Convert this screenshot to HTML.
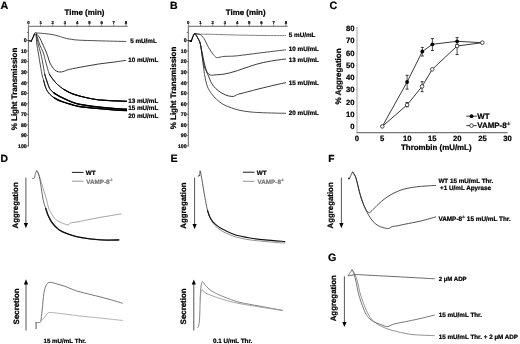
<!DOCTYPE html>
<html><head><meta charset="utf-8"><style>
html,body{margin:0;padding:0;background:#fff;}
body{width:520px;height:344px;overflow:hidden;}
svg{display:block;font-family:"Liberation Sans",sans-serif;will-change:transform;text-rendering:geometricPrecision;}
</style></head><body>
<svg width="520" height="344" viewBox="0 0 520 344">
<rect width="520" height="344" fill="#fff"/>
<text x="0.6" y="8.6" font-size="10.7" text-anchor="start" fill="#000" stroke="#000" stroke-width="0.22" font-weight="bold" >A</text>
<text x="169.9" y="8.8" font-size="10.5" text-anchor="start" fill="#000" stroke="#000" stroke-width="0.22" font-weight="bold" >B</text>
<text x="329.4" y="8.8" font-size="10.7" text-anchor="start" fill="#000" stroke="#000" stroke-width="0.22" font-weight="bold" >C</text>
<text x="0.4" y="162.3" font-size="10.4" text-anchor="start" fill="#000" stroke="#000" stroke-width="0.22" font-weight="bold" >D</text>
<text x="170.4" y="161.6" font-size="10.7" text-anchor="start" fill="#000" stroke="#000" stroke-width="0.22" font-weight="bold" >E</text>
<text x="328.2" y="162.4" font-size="10.2" text-anchor="start" fill="#000" stroke="#000" stroke-width="0.22" font-weight="bold" >F</text>
<text x="328.0" y="261.4" font-size="10.7" text-anchor="start" fill="#000" stroke="#000" stroke-width="0.22" font-weight="bold" >G</text>
<line x1="28.4" y1="26.3" x2="127.69999999999999" y2="26.3" stroke="#666" stroke-width="1.0"/>
<line x1="28.4" y1="26.3" x2="28.4" y2="146.5" stroke="#666" stroke-width="1.0"/>
<line x1="28.4" y1="26.3" x2="28.4" y2="24.3" stroke="#666" stroke-width="0.8"/>
<text x="28.4" y="24.0" font-size="4.3" text-anchor="middle" fill="#000" stroke="#000" stroke-width="0.22" font-weight="bold" >0</text>
<line x1="40.599999999999994" y1="26.3" x2="40.599999999999994" y2="24.3" stroke="#666" stroke-width="0.8"/>
<text x="40.599999999999994" y="24.0" font-size="4.3" text-anchor="middle" fill="#000" stroke="#000" stroke-width="0.22" font-weight="bold" >1</text>
<line x1="52.8" y1="26.3" x2="52.8" y2="24.3" stroke="#666" stroke-width="0.8"/>
<text x="52.8" y="24.0" font-size="4.3" text-anchor="middle" fill="#000" stroke="#000" stroke-width="0.22" font-weight="bold" >2</text>
<line x1="65.0" y1="26.3" x2="65.0" y2="24.3" stroke="#666" stroke-width="0.8"/>
<text x="65.0" y="24.0" font-size="4.3" text-anchor="middle" fill="#000" stroke="#000" stroke-width="0.22" font-weight="bold" >3</text>
<line x1="77.19999999999999" y1="26.3" x2="77.19999999999999" y2="24.3" stroke="#666" stroke-width="0.8"/>
<text x="77.19999999999999" y="24.0" font-size="4.3" text-anchor="middle" fill="#000" stroke="#000" stroke-width="0.22" font-weight="bold" >4</text>
<line x1="89.4" y1="26.3" x2="89.4" y2="24.3" stroke="#666" stroke-width="0.8"/>
<text x="89.4" y="24.0" font-size="4.3" text-anchor="middle" fill="#000" stroke="#000" stroke-width="0.22" font-weight="bold" >5</text>
<line x1="101.6" y1="26.3" x2="101.6" y2="24.3" stroke="#666" stroke-width="0.8"/>
<text x="101.6" y="24.0" font-size="4.3" text-anchor="middle" fill="#000" stroke="#000" stroke-width="0.22" font-weight="bold" >6</text>
<line x1="113.79999999999998" y1="26.3" x2="113.79999999999998" y2="24.3" stroke="#666" stroke-width="0.8"/>
<text x="113.79999999999998" y="24.0" font-size="4.3" text-anchor="middle" fill="#000" stroke="#000" stroke-width="0.22" font-weight="bold" >7</text>
<line x1="126.0" y1="26.3" x2="126.0" y2="24.3" stroke="#666" stroke-width="0.8"/>
<text x="126.0" y="24.0" font-size="4.3" text-anchor="middle" fill="#000" stroke="#000" stroke-width="0.22" font-weight="bold" >8</text>
<text x="64.6" y="15.4" font-size="7.9" text-anchor="start" fill="#000" stroke="#000" stroke-width="0.22" font-weight="bold" >Time (min)</text>
<line x1="27.0" y1="32.4" x2="28.4" y2="32.4" stroke="#444" stroke-width="0.8"/>
<line x1="26.799999999999997" y1="40.5" x2="28.4" y2="40.5" stroke="#666" stroke-width="0.8"/>
<text x="26.7" y="42.35" font-size="5.2" text-anchor="end" fill="#000" stroke="#000" stroke-width="0.22" font-weight="bold" >0</text>
<line x1="26.799999999999997" y1="51.05" x2="28.4" y2="51.05" stroke="#666" stroke-width="0.8"/>
<text x="26.7" y="52.9" font-size="5.2" text-anchor="end" fill="#000" stroke="#000" stroke-width="0.22" font-weight="bold" >10</text>
<line x1="26.799999999999997" y1="61.6" x2="28.4" y2="61.6" stroke="#666" stroke-width="0.8"/>
<text x="26.7" y="63.45" font-size="5.2" text-anchor="end" fill="#000" stroke="#000" stroke-width="0.22" font-weight="bold" >20</text>
<line x1="26.799999999999997" y1="72.15" x2="28.4" y2="72.15" stroke="#666" stroke-width="0.8"/>
<text x="26.7" y="74.0" font-size="5.2" text-anchor="end" fill="#000" stroke="#000" stroke-width="0.22" font-weight="bold" >30</text>
<line x1="26.799999999999997" y1="82.7" x2="28.4" y2="82.7" stroke="#666" stroke-width="0.8"/>
<text x="26.7" y="84.55" font-size="5.2" text-anchor="end" fill="#000" stroke="#000" stroke-width="0.22" font-weight="bold" >40</text>
<line x1="26.799999999999997" y1="93.25" x2="28.4" y2="93.25" stroke="#666" stroke-width="0.8"/>
<text x="26.7" y="95.1" font-size="5.2" text-anchor="end" fill="#000" stroke="#000" stroke-width="0.22" font-weight="bold" >50</text>
<line x1="26.799999999999997" y1="103.80000000000001" x2="28.4" y2="103.80000000000001" stroke="#666" stroke-width="0.8"/>
<text x="26.7" y="105.65" font-size="5.2" text-anchor="end" fill="#000" stroke="#000" stroke-width="0.22" font-weight="bold" >60</text>
<line x1="26.799999999999997" y1="114.35000000000001" x2="28.4" y2="114.35000000000001" stroke="#666" stroke-width="0.8"/>
<text x="26.7" y="116.2" font-size="5.2" text-anchor="end" fill="#000" stroke="#000" stroke-width="0.22" font-weight="bold" >70</text>
<line x1="26.799999999999997" y1="124.9" x2="28.4" y2="124.9" stroke="#666" stroke-width="0.8"/>
<text x="26.7" y="126.75" font-size="5.2" text-anchor="end" fill="#000" stroke="#000" stroke-width="0.22" font-weight="bold" >80</text>
<line x1="26.799999999999997" y1="135.45" x2="28.4" y2="135.45" stroke="#666" stroke-width="0.8"/>
<text x="26.7" y="137.29999999999998" font-size="5.2" text-anchor="end" fill="#000" stroke="#000" stroke-width="0.22" font-weight="bold" >90</text>
<line x1="26.799999999999997" y1="146.0" x2="28.4" y2="146.0" stroke="#666" stroke-width="0.8"/>
<text x="26.7" y="147.85" font-size="5.2" text-anchor="end" fill="#000" stroke="#000" stroke-width="0.22" font-weight="bold" >100</text>
<line x1="188.3" y1="26.3" x2="287.6" y2="26.3" stroke="#666" stroke-width="1.0"/>
<line x1="188.3" y1="26.3" x2="188.3" y2="146.5" stroke="#666" stroke-width="1.0"/>
<line x1="188.3" y1="26.3" x2="188.3" y2="24.3" stroke="#666" stroke-width="0.8"/>
<text x="188.3" y="24.0" font-size="4.3" text-anchor="middle" fill="#000" stroke="#000" stroke-width="0.22" font-weight="bold" >0</text>
<line x1="200.5" y1="26.3" x2="200.5" y2="24.3" stroke="#666" stroke-width="0.8"/>
<text x="200.5" y="24.0" font-size="4.3" text-anchor="middle" fill="#000" stroke="#000" stroke-width="0.22" font-weight="bold" >1</text>
<line x1="212.70000000000002" y1="26.3" x2="212.70000000000002" y2="24.3" stroke="#666" stroke-width="0.8"/>
<text x="212.70000000000002" y="24.0" font-size="4.3" text-anchor="middle" fill="#000" stroke="#000" stroke-width="0.22" font-weight="bold" >2</text>
<line x1="224.9" y1="26.3" x2="224.9" y2="24.3" stroke="#666" stroke-width="0.8"/>
<text x="224.9" y="24.0" font-size="4.3" text-anchor="middle" fill="#000" stroke="#000" stroke-width="0.22" font-weight="bold" >3</text>
<line x1="237.10000000000002" y1="26.3" x2="237.10000000000002" y2="24.3" stroke="#666" stroke-width="0.8"/>
<text x="237.10000000000002" y="24.0" font-size="4.3" text-anchor="middle" fill="#000" stroke="#000" stroke-width="0.22" font-weight="bold" >4</text>
<line x1="249.3" y1="26.3" x2="249.3" y2="24.3" stroke="#666" stroke-width="0.8"/>
<text x="249.3" y="24.0" font-size="4.3" text-anchor="middle" fill="#000" stroke="#000" stroke-width="0.22" font-weight="bold" >5</text>
<line x1="261.5" y1="26.3" x2="261.5" y2="24.3" stroke="#666" stroke-width="0.8"/>
<text x="261.5" y="24.0" font-size="4.3" text-anchor="middle" fill="#000" stroke="#000" stroke-width="0.22" font-weight="bold" >6</text>
<line x1="273.7" y1="26.3" x2="273.7" y2="24.3" stroke="#666" stroke-width="0.8"/>
<text x="273.7" y="24.0" font-size="4.3" text-anchor="middle" fill="#000" stroke="#000" stroke-width="0.22" font-weight="bold" >7</text>
<line x1="285.9" y1="26.3" x2="285.9" y2="24.3" stroke="#666" stroke-width="0.8"/>
<text x="285.9" y="24.0" font-size="4.3" text-anchor="middle" fill="#000" stroke="#000" stroke-width="0.22" font-weight="bold" >8</text>
<text x="225.8" y="15.4" font-size="7.9" text-anchor="start" fill="#000" stroke="#000" stroke-width="0.22" font-weight="bold" >Time (min)</text>
<line x1="186.9" y1="32.4" x2="188.3" y2="32.4" stroke="#444" stroke-width="0.8"/>
<line x1="186.70000000000002" y1="40.5" x2="188.3" y2="40.5" stroke="#666" stroke-width="0.8"/>
<text x="186.60000000000002" y="42.35" font-size="5.2" text-anchor="end" fill="#000" stroke="#000" stroke-width="0.22" font-weight="bold" >0</text>
<line x1="186.70000000000002" y1="51.05" x2="188.3" y2="51.05" stroke="#666" stroke-width="0.8"/>
<text x="186.60000000000002" y="52.9" font-size="5.2" text-anchor="end" fill="#000" stroke="#000" stroke-width="0.22" font-weight="bold" >10</text>
<line x1="186.70000000000002" y1="61.6" x2="188.3" y2="61.6" stroke="#666" stroke-width="0.8"/>
<text x="186.60000000000002" y="63.45" font-size="5.2" text-anchor="end" fill="#000" stroke="#000" stroke-width="0.22" font-weight="bold" >20</text>
<line x1="186.70000000000002" y1="72.15" x2="188.3" y2="72.15" stroke="#666" stroke-width="0.8"/>
<text x="186.60000000000002" y="74.0" font-size="5.2" text-anchor="end" fill="#000" stroke="#000" stroke-width="0.22" font-weight="bold" >30</text>
<line x1="186.70000000000002" y1="82.7" x2="188.3" y2="82.7" stroke="#666" stroke-width="0.8"/>
<text x="186.60000000000002" y="84.55" font-size="5.2" text-anchor="end" fill="#000" stroke="#000" stroke-width="0.22" font-weight="bold" >40</text>
<line x1="186.70000000000002" y1="93.25" x2="188.3" y2="93.25" stroke="#666" stroke-width="0.8"/>
<text x="186.60000000000002" y="95.1" font-size="5.2" text-anchor="end" fill="#000" stroke="#000" stroke-width="0.22" font-weight="bold" >50</text>
<line x1="186.70000000000002" y1="103.80000000000001" x2="188.3" y2="103.80000000000001" stroke="#666" stroke-width="0.8"/>
<text x="186.60000000000002" y="105.65" font-size="5.2" text-anchor="end" fill="#000" stroke="#000" stroke-width="0.22" font-weight="bold" >60</text>
<line x1="186.70000000000002" y1="114.35000000000001" x2="188.3" y2="114.35000000000001" stroke="#666" stroke-width="0.8"/>
<text x="186.60000000000002" y="116.2" font-size="5.2" text-anchor="end" fill="#000" stroke="#000" stroke-width="0.22" font-weight="bold" >70</text>
<line x1="186.70000000000002" y1="124.9" x2="188.3" y2="124.9" stroke="#666" stroke-width="0.8"/>
<text x="186.60000000000002" y="126.75" font-size="5.2" text-anchor="end" fill="#000" stroke="#000" stroke-width="0.22" font-weight="bold" >80</text>
<line x1="186.70000000000002" y1="135.45" x2="188.3" y2="135.45" stroke="#666" stroke-width="0.8"/>
<text x="186.60000000000002" y="137.29999999999998" font-size="5.2" text-anchor="end" fill="#000" stroke="#000" stroke-width="0.22" font-weight="bold" >90</text>
<line x1="186.70000000000002" y1="146.0" x2="188.3" y2="146.0" stroke="#666" stroke-width="0.8"/>
<text x="186.60000000000002" y="147.85" font-size="5.2" text-anchor="end" fill="#000" stroke="#000" stroke-width="0.22" font-weight="bold" >100</text>
<text x="0" y="0" font-size="8.0" text-anchor="middle" fill="#000" stroke="#000" stroke-width="0.22" font-weight="bold" transform="translate(17.4,89.0) rotate(-90)">% Light Transmission</text>
<text x="0" y="0" font-size="8.0" text-anchor="middle" fill="#000" stroke="#000" stroke-width="0.22" font-weight="bold" transform="translate(175.6,88.0) rotate(-90)">% Light Transmission</text>
<path d="M28.60,40.50 C28.83,40.57 29.57,40.82 30.00,40.90 C30.43,40.98 30.67,41.63 31.20,41.00 C31.73,40.37 32.65,38.27 33.20,37.10 C33.75,35.93 34.08,34.65 34.50,34.00 C34.92,33.35 35.50,33.33 35.70,33.20" fill="none" stroke="#000" stroke-width="1.2" />
<path d="M31.20,41.00 L31.90,41.20" fill="none" stroke="#000" stroke-width="1.8" />
<path d="M35.70,33.20 C36.27,33.18 37.45,33.02 39.10,33.10 C40.75,33.18 43.43,33.47 45.60,33.70 C47.77,33.93 49.92,34.10 52.10,34.50 C54.28,34.90 56.28,35.43 58.70,36.10 C61.12,36.77 63.33,37.83 66.60,38.50 C69.87,39.17 72.97,39.72 78.30,40.10 C83.63,40.48 90.62,40.57 98.60,40.80 C106.58,41.03 121.60,41.38 126.20,41.50" fill="none" stroke="#222" stroke-width="0.8" />
<path d="M35.70,33.20 C36.17,33.67 37.62,34.78 38.50,36.00 C39.38,37.22 40.20,38.90 41.00,40.50 C41.80,42.10 42.43,43.68 43.30,45.60 C44.17,47.52 45.37,49.93 46.20,52.00 C47.03,54.07 47.73,56.33 48.30,58.00 C48.87,59.67 49.07,60.70 49.60,62.00 C50.13,63.30 50.60,64.43 51.50,65.80 C52.40,67.17 53.83,69.20 55.00,70.20 C56.17,71.20 57.42,71.52 58.50,71.80 C59.58,72.08 60.50,72.02 61.50,71.90 C62.50,71.78 63.17,71.52 64.50,71.10 C65.83,70.68 66.23,70.17 69.50,69.40 C72.77,68.63 79.25,67.40 84.10,66.50 C88.95,65.60 93.77,64.72 98.60,64.00 C103.43,63.28 108.50,62.82 113.10,62.20 C117.70,61.58 124.02,60.62 126.20,60.30" fill="none" stroke="#222" stroke-width="0.9" />
<path d="M35.70,33.20 C36.02,34.00 36.92,36.03 37.60,38.00 C38.28,39.97 38.88,42.67 39.80,45.00 C40.72,47.33 42.10,49.17 43.10,52.00 C44.10,54.83 44.77,58.33 45.80,62.00 C46.83,65.67 48.02,71.00 49.30,74.00 C50.58,77.00 52.15,78.27 53.50,80.00 C54.85,81.73 55.73,82.87 57.40,84.40 C59.07,85.93 61.17,87.70 63.50,89.20 C65.83,90.70 68.42,92.18 71.40,93.40 C74.38,94.62 77.30,95.48 81.40,96.50 C85.50,97.52 92.07,98.87 96.00,99.50 C99.93,100.13 101.60,100.07 105.00,100.30 C108.40,100.53 112.73,100.73 116.40,100.90 C120.07,101.07 125.23,101.23 127.00,101.30" fill="none" stroke="#222" stroke-width="0.8" />
<path d="M35.70,33.20 C35.92,34.00 36.55,36.03 37.00,38.00 C37.45,39.97 37.83,42.67 38.40,45.00 C38.97,47.33 39.70,49.17 40.40,52.00 C41.10,54.83 41.88,58.33 42.60,62.00 C43.32,65.67 44.05,71.00 44.70,74.00 C45.35,77.00 45.68,77.60 46.50,80.00 C47.32,82.40 48.50,86.37 49.60,88.40 C50.70,90.43 51.95,91.17 53.10,92.20 C54.25,93.23 54.73,93.57 56.50,94.60 C58.27,95.63 61.22,97.20 63.70,98.40 C66.18,99.60 68.83,100.83 71.40,101.80 C73.97,102.77 75.00,103.37 79.10,104.20 C83.20,105.03 89.85,106.07 96.00,106.80 C102.15,107.53 110.83,108.18 116.00,108.60 C121.17,109.02 125.17,109.18 127.00,109.30" fill="none" stroke="#222" stroke-width="0.8" />
<path d="M35.70,33.20 C35.80,34.00 36.10,36.03 36.30,38.00 C36.50,39.97 36.58,42.67 36.90,45.00 C37.22,47.33 37.72,49.17 38.20,52.00 C38.68,54.83 39.18,58.33 39.80,62.00 C40.42,65.67 41.28,71.00 41.90,74.00 C42.52,77.00 42.80,77.55 43.50,80.00 C44.20,82.45 45.08,86.37 46.10,88.70 C47.12,91.03 48.28,92.50 49.60,94.00 C50.92,95.50 52.60,96.70 54.00,97.70 C55.40,98.70 56.38,99.25 58.00,100.00 C59.62,100.75 61.47,101.45 63.70,102.20 C65.93,102.95 68.83,103.78 71.40,104.50 C73.97,105.22 75.00,105.85 79.10,106.50 C83.20,107.15 89.85,107.82 96.00,108.40 C102.15,108.98 110.83,109.63 116.00,110.00 C121.17,110.37 125.17,110.50 127.00,110.60" fill="none" stroke="#222" stroke-width="0.8" />
<path d="M49.30,74.00 C50.00,75.00 52.15,78.27 53.50,80.00 C54.85,81.73 55.73,82.87 57.40,84.40 C59.07,85.93 61.17,87.70 63.50,89.20 C65.83,90.70 68.42,92.18 71.40,93.40 C74.38,94.62 77.30,95.48 81.40,96.50 C85.50,97.52 92.07,98.87 96.00,99.50 C99.93,100.13 101.60,100.07 105.00,100.30 C108.40,100.53 112.73,100.73 116.40,100.90 C120.07,101.07 125.23,101.23 127.00,101.30" fill="none" stroke="#111" stroke-width="1.0" />
<path d="M63.50,89.20 C64.82,89.90 68.42,92.18 71.40,93.40 C74.38,94.62 77.30,95.48 81.40,96.50 C85.50,97.52 92.07,98.87 96.00,99.50 C99.93,100.13 101.60,100.07 105.00,100.30 C108.40,100.53 112.73,100.73 116.40,100.90 C120.07,101.07 125.23,101.23 127.00,101.30" fill="none" stroke="#000" stroke-width="1.2" />
<path d="M44.70,74.00 C45.00,75.00 45.68,77.60 46.50,80.00 C47.32,82.40 48.50,86.37 49.60,88.40 C50.70,90.43 51.95,91.17 53.10,92.20 C54.25,93.23 54.73,93.57 56.50,94.60 C58.27,95.63 61.22,97.20 63.70,98.40 C66.18,99.60 68.83,100.83 71.40,101.80 C73.97,102.77 75.00,103.37 79.10,104.20 C83.20,105.03 89.85,106.07 96.00,106.80 C102.15,107.53 110.83,108.18 116.00,108.60 C121.17,109.02 125.17,109.18 127.00,109.30" fill="none" stroke="#111" stroke-width="1.0" />
<path d="M53.10,92.20 C53.67,92.60 54.73,93.57 56.50,94.60 C58.27,95.63 61.22,97.20 63.70,98.40 C66.18,99.60 68.83,100.83 71.40,101.80 C73.97,102.77 75.00,103.37 79.10,104.20 C83.20,105.03 89.85,106.07 96.00,106.80 C102.15,107.53 110.83,108.18 116.00,108.60 C121.17,109.02 125.17,109.18 127.00,109.30" fill="none" stroke="#000" stroke-width="1.4" />
<path d="M43.50,80.00 C43.93,81.45 45.08,86.37 46.10,88.70 C47.12,91.03 48.28,92.50 49.60,94.00 C50.92,95.50 52.60,96.70 54.00,97.70 C55.40,98.70 56.38,99.25 58.00,100.00 C59.62,100.75 61.47,101.45 63.70,102.20 C65.93,102.95 68.83,103.78 71.40,104.50 C73.97,105.22 75.00,105.85 79.10,106.50 C83.20,107.15 89.85,107.82 96.00,108.40 C102.15,108.98 110.83,109.63 116.00,110.00 C121.17,110.37 125.17,110.50 127.00,110.60" fill="none" stroke="#111" stroke-width="1.0" />
<path d="M54.00,97.70 C54.67,98.08 56.38,99.25 58.00,100.00 C59.62,100.75 61.47,101.45 63.70,102.20 C65.93,102.95 68.83,103.78 71.40,104.50 C73.97,105.22 75.00,105.85 79.10,106.50 C83.20,107.15 89.85,107.82 96.00,108.40 C102.15,108.98 110.83,109.63 116.00,110.00 C121.17,110.37 125.17,110.50 127.00,110.60" fill="none" stroke="#000" stroke-width="1.4" />
<circle cx="35.7" cy="33.3" r="0.9" fill="#fff" stroke="#222" stroke-width="0.6"/>
<text x="130.2" y="42.6" font-size="6.3" text-anchor="start" fill="#000" stroke="#000" stroke-width="0.22" font-weight="bold" >5 mU/mL</text>
<text x="128.2" y="61.9" font-size="6.3" text-anchor="start" fill="#000" stroke="#000" stroke-width="0.22" font-weight="bold" >10 mU/mL</text>
<text x="128.2" y="103.2" font-size="6.3" text-anchor="start" fill="#000" stroke="#000" stroke-width="0.22" font-weight="bold" >13 mU/mL</text>
<text x="128.2" y="109.9" font-size="6.3" text-anchor="start" fill="#000" stroke="#000" stroke-width="0.22" font-weight="bold" >15 mU/mL</text>
<text x="128.2" y="117.6" font-size="6.3" text-anchor="start" fill="#000" stroke="#000" stroke-width="0.22" font-weight="bold" >20 mU/mL</text>
<path d="M188.30,40.50 C188.55,40.57 189.32,40.82 189.80,40.90 C190.28,40.98 190.68,41.73 191.20,41.00 C191.72,40.27 192.43,37.62 192.90,36.50 C193.37,35.38 193.62,34.80 194.00,34.30 C194.38,33.80 195.00,33.63 195.20,33.50" fill="none" stroke="#000" stroke-width="1.2" />
<path d="M190.20,41.00 L191.80,41.10" fill="none" stroke="#000" stroke-width="1.8" />
<path d="M195.20,33.50 C195.85,33.62 197.15,34.08 199.10,34.20 C201.05,34.32 203.63,34.15 206.90,34.20 C210.17,34.25 214.52,34.38 218.70,34.50 C222.88,34.62 227.62,34.78 232.00,34.90 C236.38,35.02 239.50,35.10 245.00,35.20 C250.50,35.30 258.17,35.43 265.00,35.50 C271.83,35.57 282.50,35.58 286.00,35.60" fill="none" stroke="#777" stroke-width="0.9" />
<path d="M195.20,33.50 C195.67,33.58 197.13,33.82 198.00,34.00 C198.87,34.18 199.57,34.05 200.40,34.60 C201.23,35.15 202.23,36.33 203.00,37.30 C203.77,38.27 204.23,39.02 205.00,40.40 C205.77,41.78 206.83,44.13 207.60,45.60 C208.37,47.07 208.65,47.72 209.60,49.20 C210.55,50.68 212.17,53.12 213.30,54.50 C214.43,55.88 215.27,57.07 216.40,57.50 C217.53,57.93 218.83,57.28 220.10,57.10 C221.37,56.92 221.52,56.58 224.00,56.40 C226.48,56.22 230.67,56.37 235.00,56.00 C239.33,55.63 245.00,54.82 250.00,54.20 C255.00,53.58 259.00,53.03 265.00,52.30 C271.00,51.57 282.50,50.22 286.00,49.80" fill="none" stroke="#222" stroke-width="0.8" />
<path d="M195.20,33.50 C195.42,33.88 195.97,34.87 196.50,35.80 C197.03,36.73 197.80,37.90 198.40,39.10 C199.00,40.30 199.60,41.18 200.10,43.00 C200.60,44.82 200.98,47.50 201.40,50.00 C201.82,52.50 202.23,55.75 202.60,58.00 C202.97,60.25 203.22,61.82 203.60,63.50 C203.98,65.18 204.25,66.55 204.90,68.10 C205.55,69.65 206.55,71.62 207.50,72.80 C208.45,73.98 209.38,74.85 210.60,75.20 C211.82,75.55 212.57,75.08 214.80,74.90 C217.03,74.72 220.63,74.68 224.00,74.10 C227.37,73.52 231.50,72.42 235.00,71.40 C238.50,70.38 240.83,69.35 245.00,68.00 C249.17,66.65 255.00,64.57 260.00,63.30 C265.00,62.03 270.67,61.12 275.00,60.40 C279.33,59.68 284.17,59.23 286.00,59.00" fill="none" stroke="#222" stroke-width="0.9" />
<path d="M195.20,33.50 C195.42,33.88 195.97,34.87 196.50,35.80 C197.03,36.73 197.80,37.90 198.40,39.10 C199.00,40.30 199.57,41.18 200.10,43.00 C200.63,44.82 201.08,47.50 201.60,50.00 C202.12,52.50 202.63,55.33 203.20,58.00 C203.77,60.67 204.40,63.67 205.00,66.00 C205.60,68.33 206.22,70.33 206.80,72.00 C207.38,73.67 207.70,74.12 208.50,76.00 C209.30,77.88 210.38,81.20 211.60,83.30 C212.82,85.40 214.05,86.93 215.80,88.60 C217.55,90.27 220.00,92.08 222.10,93.30 C224.20,94.52 226.48,95.38 228.40,95.90 C230.32,96.42 232.22,96.58 233.60,96.40 C234.98,96.22 235.63,95.23 236.70,94.80 C237.77,94.37 237.78,94.40 240.00,93.80 C242.22,93.20 246.67,92.07 250.00,91.20 C253.33,90.33 255.83,89.63 260.00,88.60 C264.17,87.57 270.67,86.00 275.00,85.00 C279.33,84.00 284.17,83.00 286.00,82.60" fill="none" stroke="#222" stroke-width="0.9" />
<path d="M195.20,33.50 C195.42,33.88 195.97,34.87 196.50,35.80 C197.03,36.73 197.80,37.90 198.40,39.10 C199.00,40.30 199.62,41.18 200.10,43.00 C200.58,44.82 200.92,47.50 201.30,50.00 C201.68,52.50 202.05,55.33 202.40,58.00 C202.75,60.67 203.10,63.67 203.40,66.00 C203.70,68.33 203.97,70.33 204.20,72.00 C204.43,73.67 204.27,73.58 204.80,76.00 C205.33,78.42 206.27,83.53 207.40,86.50 C208.53,89.47 210.03,91.62 211.60,93.80 C213.17,95.98 214.88,97.85 216.80,99.60 C218.72,101.35 220.65,102.92 223.10,104.30 C225.55,105.68 228.68,106.88 231.50,107.90 C234.32,108.92 236.92,109.73 240.00,110.40 C243.08,111.07 246.67,111.53 250.00,111.90 C253.33,112.27 255.83,112.40 260.00,112.60 C264.17,112.80 270.67,112.98 275.00,113.10 C279.33,113.22 284.17,113.27 286.00,113.30" fill="none" stroke="#222" stroke-width="0.8" />
<text x="288.8" y="37.0" font-size="6.3" text-anchor="start" fill="#000" stroke="#000" stroke-width="0.22" font-weight="bold" >5 mU/mL</text>
<text x="288.8" y="51.2" font-size="6.3" text-anchor="start" fill="#000" stroke="#000" stroke-width="0.22" font-weight="bold" >10 mU/mL</text>
<text x="288.8" y="61.5" font-size="6.3" text-anchor="start" fill="#000" stroke="#000" stroke-width="0.22" font-weight="bold" >13 mU/mL</text>
<text x="288.8" y="84.7" font-size="6.3" text-anchor="start" fill="#000" stroke="#000" stroke-width="0.22" font-weight="bold" >15 mU/mL</text>
<text x="288.8" y="114.5" font-size="6.3" text-anchor="start" fill="#000" stroke="#000" stroke-width="0.22" font-weight="bold" >20 mU/mL</text>
<line x1="357.0" y1="27.0" x2="357.0" y2="132.6" stroke="#999" stroke-width="0.9"/>
<line x1="356.5" y1="132.6" x2="507.6" y2="132.6" stroke="#777" stroke-width="1.1"/>
<text x="354.6" y="129.20000000000002" font-size="7.7" text-anchor="end" fill="#000" stroke="#000" stroke-width="0.22" font-weight="bold" >0</text>
<text x="354.6" y="116.95" font-size="7.7" text-anchor="end" fill="#000" stroke="#000" stroke-width="0.22" font-weight="bold" >10</text>
<text x="354.6" y="104.7" font-size="7.7" text-anchor="end" fill="#000" stroke="#000" stroke-width="0.22" font-weight="bold" >20</text>
<text x="354.6" y="92.45" font-size="7.7" text-anchor="end" fill="#000" stroke="#000" stroke-width="0.22" font-weight="bold" >30</text>
<text x="354.6" y="80.2" font-size="7.7" text-anchor="end" fill="#000" stroke="#000" stroke-width="0.22" font-weight="bold" >40</text>
<text x="354.6" y="67.95" font-size="7.7" text-anchor="end" fill="#000" stroke="#000" stroke-width="0.22" font-weight="bold" >50</text>
<text x="354.6" y="55.7" font-size="7.7" text-anchor="end" fill="#000" stroke="#000" stroke-width="0.22" font-weight="bold" >60</text>
<text x="354.6" y="43.45" font-size="7.7" text-anchor="end" fill="#000" stroke="#000" stroke-width="0.22" font-weight="bold" >70</text>
<text x="354.6" y="31.200000000000006" font-size="7.7" text-anchor="end" fill="#000" stroke="#000" stroke-width="0.22" font-weight="bold" >80</text>
<text x="357.0" y="140.6" font-size="7.7" text-anchor="middle" fill="#000" stroke="#000" stroke-width="0.22" font-weight="bold" >0</text>
<text x="382.085" y="140.6" font-size="7.7" text-anchor="middle" fill="#000" stroke="#000" stroke-width="0.22" font-weight="bold" >5</text>
<text x="407.17" y="140.6" font-size="7.7" text-anchor="middle" fill="#000" stroke="#000" stroke-width="0.22" font-weight="bold" >10</text>
<text x="432.255" y="140.6" font-size="7.7" text-anchor="middle" fill="#000" stroke="#000" stroke-width="0.22" font-weight="bold" >15</text>
<text x="457.34000000000003" y="140.6" font-size="7.7" text-anchor="middle" fill="#000" stroke="#000" stroke-width="0.22" font-weight="bold" >20</text>
<text x="482.425" y="140.6" font-size="7.7" text-anchor="middle" fill="#000" stroke="#000" stroke-width="0.22" font-weight="bold" >25</text>
<text x="507.51" y="140.6" font-size="7.7" text-anchor="middle" fill="#000" stroke="#000" stroke-width="0.22" font-weight="bold" >30</text>
<text x="401.0" y="149.6" font-size="7.9" text-anchor="start" fill="#000" stroke="#000" stroke-width="0.22" font-weight="bold" >Thrombin (mU/mL)</text>
<text x="0" y="0" font-size="8.0" text-anchor="middle" fill="#000" stroke="#000" stroke-width="0.22" font-weight="bold" transform="translate(340.6,76.5) rotate(-90)">% Aggregation</text>
<polyline points="382.3,126.4 407.1,82.0 422.3,51.5 432.4,44.3 457.1,41.3 482.3,42.7" fill="none" stroke="#222" stroke-width="0.9"/>
<polyline points="382.3,126.4 407.1,104.9 422.1,86.4 432.2,69.4 457.1,46.0 482.3,42.7" fill="none" stroke="#222" stroke-width="0.9"/>
<line x1="407.1" y1="75.3" x2="407.1" y2="89.1" stroke="#222" stroke-width="0.8"/><line x1="405.6" y1="75.3" x2="408.6" y2="75.3" stroke="#222" stroke-width="0.9"/><line x1="405.6" y1="89.1" x2="408.6" y2="89.1" stroke="#222" stroke-width="0.9"/>
<line x1="422.3" y1="47.4" x2="422.3" y2="56.0" stroke="#222" stroke-width="0.8"/><line x1="420.8" y1="47.4" x2="423.8" y2="47.4" stroke="#222" stroke-width="0.9"/><line x1="420.8" y1="56.0" x2="423.8" y2="56.0" stroke="#222" stroke-width="0.9"/>
<line x1="432.4" y1="38.6" x2="432.4" y2="50.5" stroke="#222" stroke-width="0.8"/><line x1="430.9" y1="38.6" x2="433.9" y2="38.6" stroke="#222" stroke-width="0.9"/><line x1="430.9" y1="50.5" x2="433.9" y2="50.5" stroke="#222" stroke-width="0.9"/>
<line x1="457.1" y1="37.6" x2="457.1" y2="44.3" stroke="#222" stroke-width="0.8"/><line x1="455.6" y1="37.6" x2="458.6" y2="37.6" stroke="#222" stroke-width="0.9"/><line x1="455.6" y1="44.3" x2="458.6" y2="44.3" stroke="#222" stroke-width="0.9"/>
<line x1="407.1" y1="102.5" x2="407.1" y2="106.8" stroke="#222" stroke-width="0.8"/><line x1="405.6" y1="102.5" x2="408.6" y2="102.5" stroke="#222" stroke-width="0.9"/><line x1="405.6" y1="106.8" x2="408.6" y2="106.8" stroke="#222" stroke-width="0.9"/>
<line x1="422.1" y1="81.7" x2="422.1" y2="91.7" stroke="#222" stroke-width="0.8"/><line x1="420.6" y1="81.7" x2="423.6" y2="81.7" stroke="#222" stroke-width="0.9"/><line x1="420.6" y1="91.7" x2="423.6" y2="91.7" stroke="#222" stroke-width="0.9"/>
<line x1="457.1" y1="46" x2="457.1" y2="54.5" stroke="#222" stroke-width="0.8"/><line x1="455.6" y1="46" x2="458.6" y2="46" stroke="#222" stroke-width="0.9"/><line x1="455.6" y1="54.5" x2="458.6" y2="54.5" stroke="#222" stroke-width="0.9"/>
<circle cx="407.1" cy="82.0" r="1.9" fill="#000"/>
<circle cx="422.3" cy="51.5" r="1.9" fill="#000"/>
<circle cx="432.4" cy="44.3" r="1.9" fill="#000"/>
<circle cx="457.1" cy="41.3" r="1.9" fill="#000"/>
<circle cx="382.3" cy="126.4" r="1.8" fill="#fff" stroke="#222" stroke-width="0.8"/>
<circle cx="407.1" cy="104.9" r="1.8" fill="#fff" stroke="#222" stroke-width="0.8"/>
<circle cx="422.1" cy="86.4" r="1.8" fill="#fff" stroke="#222" stroke-width="0.8"/>
<circle cx="432.2" cy="69.4" r="1.8" fill="#fff" stroke="#222" stroke-width="0.8"/>
<circle cx="457.1" cy="46.0" r="1.8" fill="#fff" stroke="#222" stroke-width="0.8"/>
<circle cx="482.3" cy="42.7" r="1.8" fill="#fff" stroke="#222" stroke-width="0.8"/>
<line x1="466.3" y1="116.2" x2="476.7" y2="116.2" stroke="#222" stroke-width="0.9"/>
<circle cx="471.5" cy="116.2" r="1.9" fill="#000"/>
<text x="477.3" y="118.9" font-size="7.9" text-anchor="start" fill="#000" stroke="#000" stroke-width="0.22" font-weight="bold" >WT</text>
<line x1="466.3" y1="125.6" x2="476.7" y2="125.6" stroke="#222" stroke-width="0.9"/>
<circle cx="471.5" cy="125.6" r="1.8" fill="#fff" stroke="#222" stroke-width="0.8"/>
<text x="477.3" y="128.3" font-size="7.9" text-anchor="start" fill="#000" stroke="#000" stroke-width="0.22" font-weight="bold" >VAMP-8<tspan font-size="4.2" dy="-3.6">-/-</tspan></text>
<line x1="25.9" y1="177.6" x2="25.9" y2="224.3" stroke="#555" stroke-width="1.0"/><path d="M23.799999999999997,223.10000000000002 L25.9,228.3 L28.0,223.10000000000002 Z" fill="#000"/>
<text x="0" y="0" font-size="7.85" text-anchor="middle" fill="#000" stroke="#000" stroke-width="0.22" font-weight="bold" transform="translate(17.6,205.4) rotate(-90)">Aggregation</text>
<line x1="26.0" y1="283.3" x2="26.0" y2="330.5" stroke="#555" stroke-width="1.0"/><path d="M23.9,284.5 L26.0,279.3 L28.1,284.5 Z" fill="#000"/>
<text x="0" y="0" font-size="7.9" text-anchor="middle" fill="#000" stroke="#000" stroke-width="0.22" font-weight="bold" transform="translate(18.9,306.4) rotate(-90)">Secretion</text>
<line x1="194.6" y1="177.6" x2="194.6" y2="225.3" stroke="#555" stroke-width="1.0"/><path d="M192.5,224.10000000000002 L194.6,229.3 L196.7,224.10000000000002 Z" fill="#000"/>
<text x="0" y="0" font-size="7.85" text-anchor="middle" fill="#000" stroke="#000" stroke-width="0.22" font-weight="bold" transform="translate(186.2,205.6) rotate(-90)">Aggregation</text>
<line x1="193.8" y1="283.4" x2="193.8" y2="330.5" stroke="#555" stroke-width="1.0"/><path d="M191.70000000000002,284.59999999999997 L193.8,279.4 L195.9,284.59999999999997 Z" fill="#000"/>
<text x="0" y="0" font-size="7.9" text-anchor="middle" fill="#000" stroke="#000" stroke-width="0.22" font-weight="bold" transform="translate(186.4,306.4) rotate(-90)">Secretion</text>
<line x1="341.4" y1="177.6" x2="341.4" y2="224.2" stroke="#555" stroke-width="1.0"/><path d="M339.29999999999995,223.0 L341.4,228.2 L343.5,223.0 Z" fill="#000"/>
<text x="0" y="0" font-size="7.85" text-anchor="middle" fill="#000" stroke="#000" stroke-width="0.22" font-weight="bold" transform="translate(333.0,205.4) rotate(-90)">Aggregation</text>
<line x1="344.4" y1="276.3" x2="344.4" y2="323.1" stroke="#555" stroke-width="1.0"/><path d="M342.29999999999995,321.90000000000003 L344.4,327.1 L346.5,321.90000000000003 Z" fill="#000"/>
<text x="0" y="0" font-size="7.85" text-anchor="middle" fill="#000" stroke="#000" stroke-width="0.22" font-weight="bold" transform="translate(336.3,298.2) rotate(-90)">Aggregation</text>
<path d="M32.10,178.20 C32.48,178.20 33.88,178.82 34.40,178.20 C34.92,177.58 34.82,175.77 35.20,174.50 C35.58,173.23 36.45,171.25 36.70,170.60" fill="none" stroke="#555" stroke-width="0.9" />
<path d="M36.70,170.60 C37.02,171.13 37.95,172.23 38.60,173.80 C39.25,175.37 39.77,177.30 40.60,180.00 C41.43,182.70 42.63,186.83 43.60,190.00 C44.57,193.17 45.57,196.00 46.40,199.00 C47.23,202.00 47.87,205.75 48.60,208.00 C49.33,210.25 50.05,211.12 50.80,212.50 C51.55,213.88 52.13,215.00 53.10,216.30 C54.07,217.60 55.23,219.23 56.60,220.30 C57.97,221.37 59.82,222.03 61.30,222.70 C62.78,223.37 64.40,223.92 65.50,224.30 C66.60,224.68 67.22,225.12 67.90,225.00 C68.58,224.88 68.97,223.98 69.60,223.60 C70.23,223.22 70.30,223.00 71.70,222.70 C73.10,222.40 74.95,222.37 78.00,221.80 C81.05,221.23 85.50,220.17 90.00,219.30 C94.50,218.43 99.73,217.52 105.00,216.60 C110.27,215.68 118.83,214.27 121.60,213.80" fill="none" stroke="#999" stroke-width="0.9" />
<path d="M36.70,170.60 C36.98,171.13 37.85,172.23 38.40,173.80 C38.95,175.37 39.47,177.30 40.00,180.00 C40.53,182.70 41.07,186.67 41.60,190.00 C42.13,193.33 42.53,196.98 43.20,200.00 C43.87,203.02 44.72,205.38 45.60,208.10 C46.48,210.82 47.35,213.77 48.50,216.30 C49.65,218.83 50.77,221.07 52.50,223.30 C54.23,225.53 56.47,227.97 58.90,229.70 C61.33,231.43 64.18,232.55 67.10,233.70 C70.02,234.85 73.70,235.90 76.40,236.60 C79.10,237.30 80.22,237.43 83.30,237.90 C86.38,238.37 91.03,239.03 94.90,239.40 C98.77,239.77 102.43,240.02 106.50,240.10 C110.57,240.18 117.17,239.93 119.30,239.90" fill="none" stroke="#444" stroke-width="0.8" />
<path d="M45.60,208.10 C46.08,209.47 47.35,213.77 48.50,216.30 C49.65,218.83 50.77,221.07 52.50,223.30 C54.23,225.53 56.47,227.97 58.90,229.70 C61.33,231.43 64.18,232.55 67.10,233.70 C70.02,234.85 73.70,235.90 76.40,236.60 C79.10,237.30 80.22,237.43 83.30,237.90 C86.38,238.37 91.03,239.03 94.90,239.40 C98.77,239.77 102.43,240.02 106.50,240.10 C110.57,240.18 117.17,239.93 119.30,239.90" fill="none" stroke="#111" stroke-width="1.4" />
<line x1="71.9" y1="172.4" x2="83.5" y2="172.4" stroke="#000" stroke-width="0.9"/>
<text x="85.8" y="175.3" font-size="6.3" text-anchor="start" fill="#000" stroke="#000" stroke-width="0.22" font-weight="bold" >WT</text>
<line x1="71.9" y1="181.2" x2="83.5" y2="181.2" stroke="#888" stroke-width="0.9"/>
<text x="86.2" y="183.8" font-size="6.3" text-anchor="start" fill="#777" stroke="#777" stroke-width="0.22" font-weight="bold" >VAMP-8<tspan font-size="3.4" dy="-2.6">-/-</tspan></text>
<line x1="36.1" y1="322.1" x2="36.1" y2="329.1" stroke="#444" stroke-width="0.9"/>
<line x1="35.0" y1="322.5" x2="40.0" y2="322.5" stroke="#888" stroke-width="0.9"/>
<path d="M39.60,322.50 C39.80,322.25 40.37,323.10 40.80,321.00 C41.23,318.90 41.67,314.65 42.20,309.90 C42.73,305.15 43.27,296.72 44.00,292.50 C44.73,288.28 45.58,286.30 46.60,284.60 C47.62,282.90 48.37,282.40 50.10,282.30 C51.83,282.20 54.53,283.33 57.00,284.00 C59.47,284.67 62.40,285.43 64.90,286.30 C67.40,287.17 69.48,288.27 72.00,289.20 C74.52,290.13 76.03,290.80 80.00,291.90 C83.97,293.00 90.80,294.53 95.80,295.80 C100.80,297.07 105.52,298.25 110.00,299.50 C114.48,300.75 120.58,302.67 122.70,303.30" fill="none" stroke="#666" stroke-width="0.9" />
<path d="M39.60,322.50 C39.87,322.22 40.33,321.73 41.20,320.80 C42.07,319.87 43.75,318.15 44.80,316.90 C45.85,315.65 46.63,314.03 47.50,313.30 C48.37,312.57 48.55,312.55 50.00,312.50 C51.45,312.45 52.87,312.63 56.20,313.00 C59.53,313.37 66.03,314.20 70.00,314.70 C73.97,315.20 75.00,315.45 80.00,316.00 C85.00,316.55 92.88,317.25 100.00,318.00 C107.12,318.75 118.92,320.08 122.70,320.50" fill="none" stroke="#aaa" stroke-width="0.9" />
<text x="43.5" y="342.9" font-size="6.2" text-anchor="start" fill="#000" stroke="#000" stroke-width="0.22" font-weight="bold" >15 mU/mL Thr.</text>
<line x1="197.9" y1="176.2" x2="199.7" y2="175.5" stroke="#222" stroke-width="1.0"/>
<path d="M199.70,175.70 C199.78,174.88 199.82,170.07 200.20,170.80 C200.58,171.53 201.32,176.22 202.00,180.10 C202.68,183.98 203.65,190.37 204.30,194.10 C204.95,197.83 205.38,199.85 205.90,202.50 C206.42,205.15 206.80,207.70 207.40,210.00 C208.00,212.30 209.15,215.25 209.50,216.30" fill="none" stroke="#333" stroke-width="0.8" />
<path d="M207.40,210.00 C207.75,211.10 208.73,214.67 209.50,216.60 C210.27,218.53 211.08,220.10 212.00,221.60 C212.92,223.10 213.67,224.23 215.00,225.60 C216.33,226.97 218.13,228.53 220.00,229.80 C221.87,231.07 224.03,232.17 226.20,233.20 C228.37,234.23 230.70,235.20 233.00,236.00 C235.30,236.80 237.17,237.35 240.00,238.00 C242.83,238.65 245.83,239.32 250.00,239.90 C254.17,240.48 259.13,240.97 265.00,241.50 C270.87,242.03 281.83,242.83 285.20,243.10" fill="none" stroke="#888" stroke-width="0.9" />
<path d="M207.40,210.00 C207.75,211.05 208.73,214.53 209.50,216.30 C210.27,218.07 211.08,219.33 212.00,220.60 C212.92,221.87 213.67,222.70 215.00,223.90 C216.33,225.10 218.13,226.62 220.00,227.80 C221.87,228.98 224.03,229.98 226.20,231.00 C228.37,232.02 230.70,233.07 233.00,233.90 C235.30,234.73 237.17,235.32 240.00,236.00 C242.83,236.68 245.83,237.35 250.00,238.00 C254.17,238.65 259.13,239.30 265.00,239.90 C270.87,240.50 281.83,241.32 285.20,241.60" fill="none" stroke="#111" stroke-width="1.1" />
<line x1="242.9" y1="172.2" x2="254.4" y2="172.2" stroke="#000" stroke-width="0.9"/>
<text x="256.8" y="175.2" font-size="6.3" text-anchor="start" fill="#000" stroke="#000" stroke-width="0.22" font-weight="bold" >WT</text>
<line x1="242.9" y1="181.3" x2="254.4" y2="181.3" stroke="#888" stroke-width="0.9"/>
<text x="257.6" y="183.8" font-size="6.3" text-anchor="start" fill="#777" stroke="#777" stroke-width="0.22" font-weight="bold" >VAMP-8<tspan font-size="3.4" dy="-2.6">-/-</tspan></text>
<path d="M197.20,327.50 C197.42,327.35 198.10,328.18 198.50,326.60 C198.90,325.02 199.32,322.43 199.60,318.00 C199.88,313.57 200.00,305.00 200.20,300.00 C200.40,295.00 200.45,291.05 200.80,288.00 C201.15,284.95 201.60,282.23 202.30,281.70 C203.00,281.17 203.90,283.60 205.00,284.80 C206.10,286.00 207.57,287.73 208.90,288.90 C210.23,290.07 211.43,290.87 213.00,291.80 C214.57,292.73 215.85,293.42 218.30,294.50 C220.75,295.58 224.08,296.98 227.70,298.30 C231.32,299.62 234.62,301.08 240.00,302.40 C245.38,303.72 252.87,304.87 260.00,306.20 C267.13,307.53 279.00,309.70 282.80,310.40" fill="none" stroke="#777" stroke-width="0.9" />
<path d="M200.20,300.00 C200.32,298.67 200.55,293.70 200.90,292.00 C201.25,290.30 201.62,289.70 202.30,289.80 C202.98,289.90 203.90,291.82 205.00,292.60 C206.10,293.38 207.57,293.92 208.90,294.50 C210.23,295.08 211.43,295.53 213.00,296.10 C214.57,296.67 215.85,297.12 218.30,297.90 C220.75,298.68 224.08,299.83 227.70,300.80 C231.32,301.77 234.62,302.67 240.00,303.70 C245.38,304.73 252.87,305.85 260.00,307.00 C267.13,308.15 279.00,310.00 282.80,310.60" fill="none" stroke="#999" stroke-width="0.9" />
<text x="212.9" y="342.9" font-size="6.3" text-anchor="start" fill="#000" stroke="#000" stroke-width="0.22" font-weight="bold" >0.1 U/mL Thr.</text>
<line x1="348.2" y1="178.5" x2="349.8" y2="178.5" stroke="#000" stroke-width="1.5"/>
<path d="M349.60,178.50 C349.80,178.00 350.32,176.62 350.80,175.50 C351.28,174.38 352.22,172.42 352.50,171.80" fill="none" stroke="#222" stroke-width="0.8" />
<path d="M352.50,171.80 C352.98,172.58 354.60,174.62 355.40,176.50 C356.20,178.38 356.52,180.12 357.30,183.10 C358.08,186.08 359.17,191.10 360.10,194.40 C361.03,197.70 361.95,200.38 362.90,202.90 C363.85,205.42 365.02,208.00 365.80,209.50 C366.58,211.00 366.98,211.37 367.60,211.90 C368.22,212.43 368.77,212.92 369.50,212.70 C370.23,212.48 371.05,211.50 372.00,210.60 C372.95,209.70 374.03,208.47 375.20,207.30 C376.37,206.13 377.53,204.93 379.00,203.60 C380.47,202.27 382.12,200.73 384.00,199.30 C385.88,197.87 387.98,196.35 390.30,195.00 C392.62,193.65 395.28,192.27 397.90,191.20 C400.52,190.13 402.90,189.33 406.00,188.60 C409.10,187.87 413.17,187.23 416.50,186.80 C419.83,186.37 422.73,186.23 426.00,186.00 C429.27,185.77 434.42,185.50 436.10,185.40" fill="none" stroke="#222" stroke-width="0.8" />
<path d="M352.50,171.80 C352.98,172.58 354.60,174.62 355.40,176.50 C356.20,178.38 356.52,180.12 357.30,183.10 C358.08,186.08 359.17,191.10 360.10,194.40 C361.03,197.70 361.95,200.38 362.90,202.90 C363.85,205.42 364.85,207.45 365.80,209.50 C366.75,211.55 367.35,213.15 368.60,215.20 C369.85,217.25 371.57,219.98 373.30,221.80 C375.03,223.62 376.80,225.00 379.00,226.10 C381.20,227.20 384.75,228.05 386.50,228.40 C388.25,228.75 388.55,228.50 389.50,228.20 C390.45,227.90 390.95,226.98 392.20,226.60 C393.45,226.22 394.88,226.30 397.00,225.90 C399.12,225.50 400.87,225.03 404.90,224.20 C408.93,223.37 416.00,222.13 421.20,220.90 C426.40,219.67 433.62,217.48 436.10,216.80" fill="none" stroke="#222" stroke-width="0.8" />
<text x="438.4" y="183.4" font-size="6.3" text-anchor="start" fill="#000" stroke="#000" stroke-width="0.22" font-weight="bold" >WT 15 mU/mL Thr.</text>
<text x="440.1" y="190.3" font-size="6.3" text-anchor="start" fill="#000" stroke="#000" stroke-width="0.22" font-weight="bold" >+1 U/mL Apyrase</text>
<text x="438.4" y="221.1" font-size="6.4" text-anchor="start" fill="#000" stroke="#000" stroke-width="0.22" font-weight="bold" >VAMP-8<tspan font-size="3.2" dy="-3.3">-/-</tspan><tspan dy="3.3"> 15 mU/mL Thr.</tspan></text>
<path d="M348.00,275.80 C348.27,275.42 348.92,274.52 349.60,273.50 C350.28,272.48 351.68,270.33 352.10,269.70" fill="none" stroke="#444" stroke-width="0.8" />
<path d="M348.00,275.80 C348.67,275.70 350.47,275.40 352.00,275.20 C353.53,275.00 354.20,274.58 357.20,274.60 C360.20,274.62 363.70,274.97 370.00,275.30 C376.30,275.63 387.50,276.20 395.00,276.60 C402.50,277.00 408.38,277.33 415.00,277.70 C421.62,278.07 431.42,278.62 434.70,278.80" fill="none" stroke="#444" stroke-width="0.8" />
<path d="M352.10,269.70 C352.43,270.45 353.42,272.10 354.10,274.20 C354.78,276.30 355.52,279.25 356.20,282.30 C356.88,285.35 357.35,289.10 358.20,292.50 C359.05,295.90 360.12,299.32 361.30,302.70 C362.48,306.08 364.10,310.32 365.30,312.80 C366.50,315.28 367.48,316.35 368.50,317.60 C369.52,318.85 370.22,319.47 371.40,320.30 C372.58,321.13 374.12,321.92 375.60,322.60 C377.08,323.28 378.73,323.80 380.30,324.40 C381.87,325.00 383.70,325.83 385.00,326.20 C386.30,326.57 387.10,326.77 388.10,326.60 C389.10,326.43 389.70,325.70 391.00,325.20 C392.30,324.70 392.93,324.30 395.90,323.60 C398.87,322.90 404.78,321.83 408.80,321.00 C412.82,320.17 415.68,319.60 420.00,318.60 C424.32,317.60 432.25,315.60 434.70,315.00" fill="none" stroke="#555" stroke-width="0.8" />
<path d="M352.10,269.70 C352.57,270.45 353.98,272.10 354.90,274.20 C355.82,276.30 356.77,279.25 357.60,282.30 C358.43,285.35 358.95,289.10 359.90,292.50 C360.85,295.90 362.08,299.42 363.30,302.70 C364.52,305.98 366.00,309.67 367.20,312.20 C368.40,314.73 369.37,316.33 370.50,317.90 C371.63,319.47 372.37,320.28 374.00,321.60 C375.63,322.92 377.97,324.55 380.30,325.80 C382.63,327.05 385.40,328.18 388.00,329.10 C390.60,330.02 393.07,330.60 395.90,331.30 C398.73,332.00 401.98,332.73 405.00,333.30 C408.02,333.87 409.05,334.30 414.00,334.70 C418.95,335.10 431.25,335.53 434.70,335.70" fill="none" stroke="#777" stroke-width="0.8" />
<text x="438.7" y="281.0" font-size="6.1" text-anchor="start" fill="#000" stroke="#000" stroke-width="0.22" font-weight="bold" >2 µM ADP</text>
<text x="438.7" y="316.6" font-size="6.3" text-anchor="start" fill="#000" stroke="#000" stroke-width="0.22" font-weight="bold" >15 mU/mL Thr.</text>
<text x="438.7" y="338.9" font-size="6.3" text-anchor="start" fill="#000" stroke="#000" stroke-width="0.22" font-weight="bold" >15 mU/mL Thr. + 2 µM ADP</text>
</svg>
</body></html>
